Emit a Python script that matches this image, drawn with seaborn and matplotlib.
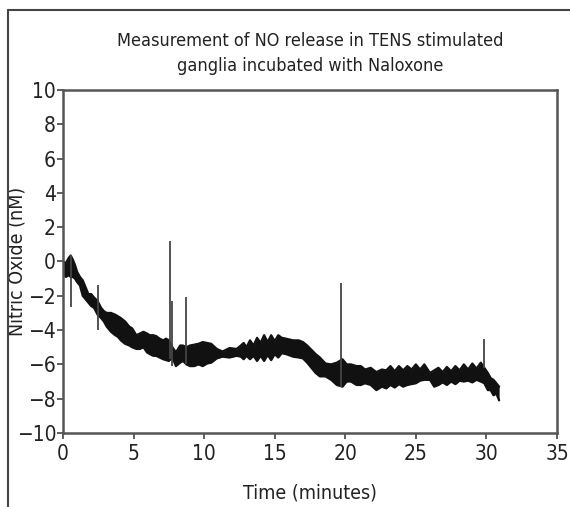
# plot.py

import matplotlib.pyplot as plt
from matplotlib.lines import Line2D
import seaborn as sns  # type: ignore
import pandas as pd

# sampled NO trace: time (min), upper and lower edge of the noise band (nM)
time_min = [
    0.0, 0.2, 0.4, 0.55, 0.7, 0.85, 1.0, 1.2, 1.4, 1.6, 1.8, 2.0, 2.2, 2.45,
    2.7, 2.9, 3.1, 3.4, 3.7, 3.9, 4.1, 4.4, 4.7, 4.9, 5.2, 5.45, 5.7, 5.95,
    6.15, 6.4, 6.6, 6.85, 7.1, 7.3, 7.5, 7.75, 8.0, 8.3, 8.5, 8.75, 9.0, 9.3,
    9.6, 9.9, 10.2, 10.5, 10.9, 11.3, 11.8, 12.3, 12.6, 12.8, 13.0, 13.25, 13.5, 13.75,
    14.0, 14.25, 14.5, 14.75, 15.0, 15.25, 15.5, 15.8, 16.3, 16.7, 17.0, 17.3,
    17.6, 17.9, 18.2, 18.6, 19.0, 19.4, 19.8, 20.1, 20.4, 20.8,
    21.1, 21.4, 21.8, 22.2, 22.6, 22.9, 23.2, 23.5, 23.8, 24.1, 24.4, 24.7,
    25.0, 25.3, 25.6, 26.0, 26.3, 26.6, 26.9, 27.2, 27.5, 27.8, 28.1, 28.4,
    28.7, 29.0, 29.3, 29.6, 29.85, 30.1, 30.3, 30.5, 30.7, 30.9,
]
no_upper = [
    0.0, -0.1, 0.2, 0.35, 0.1, -0.2, -0.6, -0.9, -1.1, -1.5, -1.9, -1.9, -2.1, -2.3,
    -2.7, -2.9, -3.0, -3.0, -3.1, -3.2, -3.3, -3.5, -3.8, -3.9, -4.3, -4.2, -4.1, -4.2,
    -4.3, -4.3, -4.35, -4.5, -4.6, -4.5, -4.6, -5.0, -5.3, -4.9, -4.9, -5.0, -4.9, -4.85,
    -4.8, -4.7, -4.75, -4.8, -5.1, -5.25, -5.05, -5.1, -4.9, -4.75, -5.0, -4.6, -4.9, -4.45,
    -4.75, -4.3, -4.7, -4.3, -4.65, -4.3, -4.45, -4.5, -4.6, -4.6, -4.7, -4.9,
    -5.15, -5.4, -5.6, -5.95, -6.0, -5.9, -5.7, -6.0, -6.0, -6.1,
    -6.1, -6.3, -6.2, -6.45, -6.3, -6.35, -6.1, -6.4, -6.1, -6.35, -6.1, -6.3,
    -6.0, -6.3, -6.0, -6.5, -6.35, -6.2, -6.45, -6.15, -6.4, -6.1, -6.35, -6.0,
    -6.3, -5.95, -6.25, -5.9, -6.2, -6.5, -6.8, -6.9, -7.1, -7.3,
]
no_lower = [
    -0.7, -0.9, -0.8, -0.9, -0.9, -1.0, -1.2, -1.4, -2.0, -2.2, -2.4, -2.6, -2.7, -3.1,
    -3.3, -3.5, -3.8, -4.1, -4.3, -4.4, -4.6, -4.8, -4.9, -5.0, -5.1, -5.1, -5.0, -5.3,
    -5.4, -5.5, -5.5, -5.6, -5.7, -5.75, -5.8, -5.6, -6.1, -5.9, -5.8, -6.0, -6.1, -6.1,
    -6.0, -6.1, -5.95, -5.9, -5.65, -5.55, -5.6, -5.5, -5.55, -5.7, -5.5, -5.7, -5.5, -5.8,
    -5.5, -5.8, -5.45, -5.75, -5.4, -5.6, -5.35, -5.4, -5.55, -5.6, -5.65, -5.9,
    -6.2, -6.5, -6.7, -6.7, -6.9, -7.2, -7.3, -7.0, -7.0, -7.2,
    -7.2, -7.1, -7.2, -7.5, -7.3, -7.4, -7.2, -7.35, -7.15, -7.3, -7.2, -7.15,
    -7.1, -6.95, -6.9, -6.9, -7.3, -7.2, -7.05, -7.2, -7.0, -7.15, -6.95, -7.0,
    -6.95, -7.05, -6.9, -7.0, -7.1, -7.5, -7.5, -7.8, -7.7, -8.1,
]

# transient spikes
spike_time = [0.55, 2.45, 7.6, 7.75, 8.7, 19.7, 29.85]
spike_top = [0.35, -1.4, 1.2, -2.3, -2.05, -1.25, -4.5]
spike_bottom = [-2.65, -4.0, -5.7, -6.1, -6.0, -7.3, -6.2]

FONTS = ['Liberation Sans Narrow', 'DejaVu Sans']


def set_plot_style():
    sns.set_theme(style="white")
    plt.rcParams['font.family'] = FONTS
    plt.rcParams['font.stretch'] = 'condensed'
    plt.rcParams['axes.unicode_minus'] = True


def plot_no_release(output_file: str):
    df = pd.DataFrame({'time': time_min, 'upper': no_upper, 'lower': no_lower})

    fig = plt.figure(figsize=(5.7, 5.07), dpi=100)
    ax = fig.add_axes([0.1105, 0.146, 0.8667, 0.6765])

    ax.fill_between(df['time'], df['lower'], df['upper'], color='#111111', lw=0)
    sns.lineplot(x='time', y='upper', data=df, ax=ax, color='#111111', lw=1.6)
    sns.lineplot(x='time', y='lower', data=df, ax=ax, color='#111111', lw=1.6)
    ax.vlines(spike_time, spike_bottom, spike_top, color='#444444', lw=1.3)

    ax.set_xlim(0, 35)
    ax.set_ylim(-10, 10)
    ax.set_xticks(range(0, 36, 5))
    ax.set_yticks(range(-10, 11, 2))
    ax.tick_params(axis='both', direction='out', length=4, width=1.2,
                   color='#444444', labelsize=15, pad=1, labelcolor='#222222')
    ax.tick_params(axis='x', bottom=True, pad=4)
    ax.tick_params(axis='y', left=True)
    for s in ax.spines.values():
        s.set_color('#555555')
        s.set_linewidth(1.8)

    ax.set_xlabel('Time (minutes)', fontsize=14, color='#222222', labelpad=14)
    ax.set_ylabel('Nitric Oxide (nM)', fontsize=14, color='#222222')
    ax.yaxis.set_label_coords(-0.073, 0.5)
    ax.set_title('Measurement of NO release in TENS stimulated\nganglia incubated with Naloxone',
                 fontsize=13, color='#222222', pad=14, linespacing=1.45)

    # outer frame of the original figure panel
    fig.add_artist(Line2D([8 / 570, 1.0], [1 - 10 / 507, 1 - 10 / 507],
                          color='#444444', lw=1.5, transform=fig.transFigure))
    fig.add_artist(Line2D([8 / 570, 8 / 570], [0.0, 1 - 10 / 507],
                          color='#444444', lw=1.5, transform=fig.transFigure))

    fig.savefig(output_file, dpi=100)


if __name__ == '__main__':
    set_plot_style()
    plot_no_release('out.png')
